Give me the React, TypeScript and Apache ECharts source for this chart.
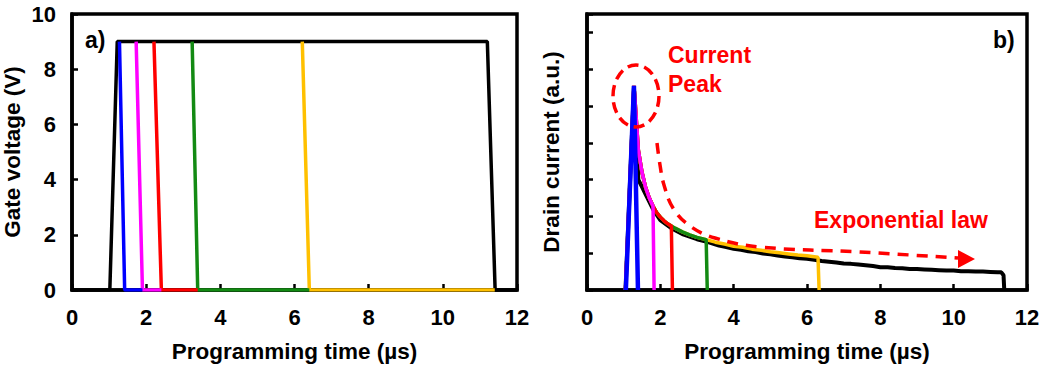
import { useEffect, useRef } from "react";
import * as echarts from "echarts";

// ---- Panel a): gate voltage pulses ----
const gateBlackT = [0, 1.02, 1.22, 11.2, 11.41, 12];
const gateBlackV = [0, 0, 9, 9, 0, 0];
const gateBlueT = [1.28, 1.42, 1.9];
const gateBlueV = [9, 0, 0];
const gateMagentaT = [1.73, 1.9, 2.41];
const gateMagentaV = [9, 0, 0];
const gateRedT = [2.21, 2.41, 3.39];
const gateRedV = [9, 0, 0];
const gateGreenT = [3.24, 3.39, 6.4];
const gateGreenV = [9, 0, 0];
const gateYellowT = [6.21, 6.4, 11.4];
const gateYellowV = [9, 0, 0];

// ---- Panel b): drain current ----
// shared decay envelope of the shorter pulses
const envT = [1.05, 1.28, 1.32, 1.4, 1.5, 1.6, 1.7, 1.8, 1.9, 2.0, 2.1, 2.2, 2.3, 2.4, 2.6, 2.8, 3.0, 3.25, 3.5, 3.75, 4.0, 4.25, 4.5, 4.75, 5.0, 5.25, 5.5, 5.75, 6.0, 6.3];
const envI = [0, 5.55, 5.0, 3.8, 3.2, 2.78, 2.5, 2.28, 2.1, 1.98, 1.88, 1.8, 1.74, 1.68, 1.58, 1.5, 1.43, 1.37, 1.3, 1.25, 1.19, 1.16, 1.11, 1.08, 1.04, 1.01, 0.98, 0.95, 0.93, 0.89];
// pulse end times for each colour
const endMagenta = 1.8;
const endRed = 2.3;
const endGreen = 3.25;
const endYellow = 6.3;
const blueT = [1.06, 1.28, 1.39];
const blueI = [0, 5.55, 0];
// longest pulse trace
const blackT = [1.05, 1.28, 1.4, 1.5, 1.6, 1.8, 2.0, 2.3, 2.6, 3.0, 3.3, 3.6, 3.8, 4.0, 4.2, 4.4, 4.6, 4.8, 5.0, 5.2, 5.4, 5.6, 5.8, 6.0, 6.2, 6.4, 6.6, 6.8, 7.0, 7.2, 7.4, 7.6, 7.8, 8.0, 8.2, 8.4, 8.6, 8.8, 9.0, 9.2, 9.4, 9.6, 9.8, 10.0, 10.2, 10.4, 10.6, 10.8, 11.0, 11.2, 11.3, 11.36, 11.38];
const blackI = [0, 5.5, 3.0, 2.8, 2.6, 2.2, 1.9, 1.68, 1.52, 1.38, 1.3, 1.21, 1.17, 1.12, 1.09, 1.05, 1.03, 0.99, 0.97, 0.94, 0.91, 0.89, 0.86, 0.85, 0.82, 0.79, 0.77, 0.75, 0.72, 0.71, 0.69, 0.67, 0.65, 0.62, 0.62, 0.6, 0.59, 0.57, 0.57, 0.56, 0.55, 0.54, 0.53, 0.53, 0.51, 0.51, 0.5, 0.5, 0.49, 0.48, 0.48, 0.4, 0];

const BLUE = "#0000ff";
const MAGENTA = "#ff00ff";
const RED = "#ff0000";
const GREEN = "#138a13";
const YELLOW = "#ffc000";
const FONT = "'Liberation Sans', Arial, sans-serif";

const zip = (t: number[], v: number[]) => t.map((x, i) => [x, v[i]]);
const envUntil = (end: number) => {
  const pts = zip(envT, envI).filter((p) => p[0] <= end + 1e-9);
  pts.push([end + 0.03, 0]);
  return pts;
};

export default function App() {
  const ref = useRef<HTMLDivElement>(null);

  useEffect(() => {
    document.body.style.margin = "0";
    const chart = echarts.init(ref.current!, undefined, { renderer: "svg" });

    const labelStyle = {
      color: "#000",
      fontWeight: "bold" as const,
      fontSize: 22,
      fontFamily: FONT,
    };
    const nameStyle = {
      color: "#000",
      fontWeight: "bold" as const,
      fontSize: 22.5,
      fontFamily: FONT,
    };
    const axisLine = { show: true, onZero: false, lineStyle: { color: "#000", width: 3.5 } };
    const axisTick = { show: true, inside: true, length: 6, lineStyle: { color: "#000", width: 2.5 } };

    const line = (name: string, xi: number, data: number[][], color: string, width = 3.5) => ({
      name,
      type: "line",
      xAxisIndex: xi,
      yAxisIndex: xi,
      data,
      showSymbol: false,
      symbol: "none",
      lineStyle: { color, width },
      z: 3,
    });

    const redFont = `bold 23px ${FONT}`;

    chart.setOption({
      animation: false,
      grid: [
        { left: 72, top: 14, width: 445, height: 278, show: true, borderColor: "#000", borderWidth: 3.5 },
        { left: 587, top: 14, width: 440, height: 278, show: true, borderColor: "#000", borderWidth: 3.5 },
      ],
      xAxis: [0, 1].map((i) => ({
        type: "value",
        gridIndex: i,
        min: 0,
        max: 12,
        interval: 2,
        axisLine,
        axisTick,
        splitLine: { show: false },
        axisLabel: { ...labelStyle, margin: 16 },
        name: "Programming time (µs)",
        nameLocation: "middle",
        nameGap: 50,
        nameTextStyle: nameStyle,
      })),
      yAxis: [
        {
          type: "value",
          gridIndex: 0,
          min: 0,
          max: 10,
          interval: 2,
          axisLine,
          axisTick,
          splitLine: { show: false },
          axisLabel: { ...labelStyle, margin: 16 },
          name: "Gate voltage (V)",
          nameLocation: "middle",
          nameGap: 48,
          nameTextStyle: nameStyle,
        },
        {
          type: "value",
          gridIndex: 1,
          min: 0,
          max: 7.5,
          interval: 1,
          axisLine,
          axisTick,
          splitLine: { show: false },
          axisLabel: { show: false },
          name: "Drain current (a.u.)",
          nameLocation: "middle",
          nameGap: 24,
          nameTextStyle: nameStyle,
        },
      ],
      series: [
        line("gate 10 µs", 0, zip(gateBlackT, gateBlackV), "#000"),
        line("gate 5 µs", 0, zip(gateYellowT, gateYellowV), YELLOW),
        line("gate 2 µs", 0, zip(gateGreenT, gateGreenV), GREEN),
        line("gate 1 µs", 0, zip(gateRedT, gateRedV), RED),
        line("gate 0.5 µs", 0, zip(gateMagentaT, gateMagentaV), MAGENTA),
        line("gate 0.2 µs", 0, zip(gateBlueT, gateBlueV), BLUE),

        line("drain 10 µs", 1, zip(blackT, blackI), "#000", 4),
        line("drain 5 µs", 1, envUntil(endYellow), YELLOW, 3.5),
        line("drain 2 µs", 1, envUntil(endGreen), GREEN, 3.5),
        line("drain 1 µs", 1, envUntil(endRed), RED, 3.5),
        line("drain 0.5 µs", 1, envUntil(endMagenta), MAGENTA, 3.5),
        line("drain 0.2 µs", 1, zip(blueT, blueI), BLUE, 4.5),
      ],
      graphic: [
        { type: "text", x: 85, y: 40, style: { text: "a)", font: `bold 23px ${FONT}`, fill: "#000", verticalAlign: "middle" }, z: 10 },
        { type: "text", x: 993, y: 40, style: { text: "b)", font: `bold 23px ${FONT}`, fill: "#000", verticalAlign: "middle" }, z: 10 },
        { type: "text", x: 668, y: 55, style: { text: "Current", font: redFont, fill: RED, verticalAlign: "middle" }, z: 10 },
        { type: "text", x: 668, y: 84, style: { text: "Peak", font: redFont, fill: RED, verticalAlign: "middle" }, z: 10 },
        { type: "text", x: 814, y: 220, style: { text: "Exponential law", font: redFont, fill: RED, verticalAlign: "middle" }, z: 10 },
        {
          type: "ellipse",
          shape: { cx: 636, cy: 96, rx: 23, ry: 31 },
          style: { fill: "none", stroke: RED, lineWidth: 3.5, lineDash: [11, 6] },
          z: 10,
        },
        {
          type: "polyline",
          shape: {
            points: [[657, 143], [660, 165], [664, 185], [673, 208], [690, 226], [715, 238], [760, 247], [860, 252], [958, 258]],
            smooth: 0.4,
          },
          style: { fill: "none", stroke: RED, lineWidth: 3.5, lineDash: [11, 8] },
          z: 10,
        },
        {
          type: "polygon",
          shape: { points: [[958, 250], [975, 259], [958, 268]] },
          style: { fill: RED },
          z: 10,
        },
      ],
    });

    return () => chart.dispose();
  }, []);

  return <div ref={ref} style={{ width: 1048, height: 368, position: "absolute", left: 0, top: 0, background: "#fff" }} />;
}
